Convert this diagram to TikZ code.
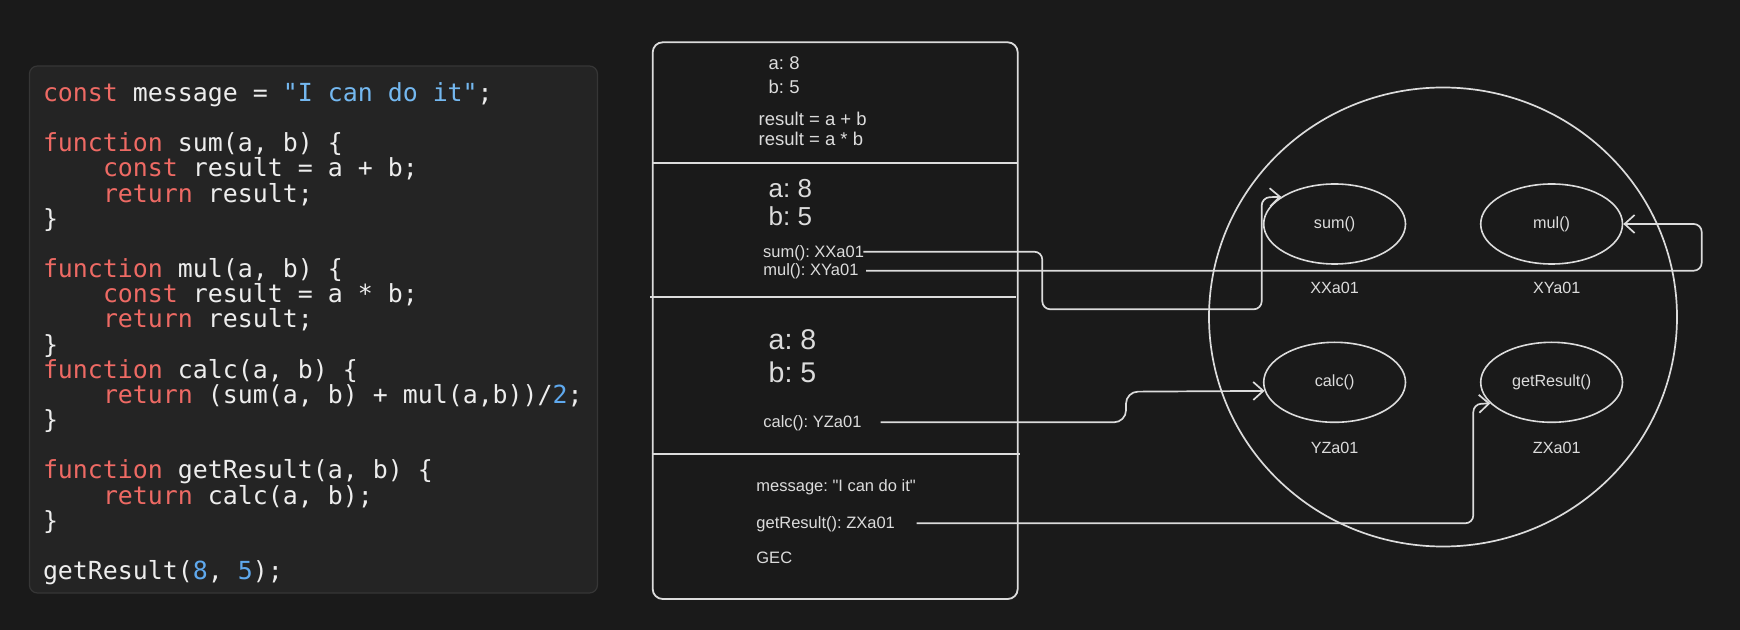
\documentclass[tikz,border=0pt]{standalone}
\usepackage{fontspec}
\newfontfamily\labelfont{Liberation Sans}
\newfontfamily\codefont{DejaVu Sans Mono}
\usetikzlibrary{arrows.meta,shapes.geometric}
\definecolor{bg}{HTML}{1A1A1A}
\definecolor{codebg}{HTML}{242424}
\definecolor{codeborder}{HTML}{363636}
\definecolor{kw}{HTML}{EE6A64}
\definecolor{str}{HTML}{74B8F0}
\definecolor{num}{HTML}{5FA9EE}
\definecolor{fg}{HTML}{EDEDED}
\definecolor{ink}{HTML}{DCDCDC}
\newcommand{\kw}[1]{\textcolor{kw}{#1}}
\newcommand{\st}[1]{\textcolor{str}{#1}}
\newcommand{\nm}[1]{\textcolor{num}{#1}}
\frenchspacing
\begin{document}
\begin{tikzpicture}[x=0.5pt,y=-0.5pt,
  codeline/.style={anchor=base west, inner sep=0pt, text=fg,
    font=\codefont\fontsize{12.45pt}{14pt}\selectfont},
  txt/.style={anchor=base west, inner sep=0pt, text=ink},
  small/.style={txt, font=\labelfont\fontsize{8.25pt}{10pt}\selectfont},
  mid/.style={txt, font=\labelfont\fontsize{9.25pt}{11pt}\selectfont},
  bigA/.style={txt, font=\labelfont\fontsize{13pt}{15pt}\selectfont},
  bigB/.style={txt, font=\labelfont\fontsize{14.25pt}{16pt}\selectfont},
  fn/.style={ellipse, draw=ink, line width=0.8pt, minimum width=70.9pt,
    minimum height=40pt, inner sep=0pt, text=ink,
    font=\labelfont\fontsize{8.1pt}{10pt}\selectfont},
  addr/.style={inner sep=0pt, text=ink, font=\labelfont\fontsize{8.1pt}{10pt}\selectfont},
  frame/.style={draw=ink, line width=0.9pt},
  conn/.style={draw=ink, line width=0.85pt, rounded corners=4pt,
    -{Straight Barb[length=5pt,width=9pt]}}
]
% background
\fill[bg] (0,0) rectangle (1740,630);

% code panel
\node[draw=codeborder, fill=codebg, line width=0.6pt, rounded corners=4pt,
  minimum width=284pt, minimum height=263.5pt, inner sep=0pt] (codebox) at (313.45,329.5) {};
\node[codeline] (c0) at (42.6,102.0) {\kw{const} message = \st{"I can do it"};};
\node[codeline] (c2) at (42.6,151.9) {\kw{function} sum(a, b) \{};
\node[codeline] (c3) at (102.6,177.0) {\kw{const} result = a + b;};
\node[codeline] (c4) at (102.6,202.2) {\kw{return} result;};
\node[codeline] (c5) at (42.6,227.3) {\}};
\node[codeline] (c7) at (42.6,277.6) {\kw{function} mul(a, b) \{};
\node[codeline] (c8) at (102.6,302.8) {\kw{const} result = a * b;};
\node[codeline] (c9) at (102.6,327.9) {\kw{return} result;};
\node[codeline] (c10) at (42.6,353.1) {\}};
\node[codeline] (c11) at (42.6,378.2) {\kw{function} calc(a, b) \{};
\node[codeline] (c12) at (102.6,403.4) {\kw{return} (sum(a, b) + mul(a,b))/\nm{2};};
\node[codeline] (c13) at (42.6,428.6) {\}};
\node[codeline] (c15) at (42.6,479.0) {\kw{function} getResult(a, b) \{};
\node[codeline] (c16) at (102.6,504.2) {\kw{return} calc(a, b);};
\node[codeline] (c17) at (42.6,529.4) {\}};
\node[codeline] (c19) at (42.6,579.8) {getResult(\nm{8}, \nm{5});};

% call stack
\node[frame, rounded corners=5pt, minimum width=182.5pt, minimum height=278.35pt,
  inner sep=0pt] (stack) at (835.2,320.65) {};
\draw[frame] (652.7,162.7) -- (1017.7,162.7);
\draw[frame] (650,296.7) -- (1015.7,296.7);
\draw[frame] (651.7,454) -- (1020,454);

\node[mid] (f1a) at (768.3,70) {a: 8};
\node[mid] (f1b) at (768.3,93.3) {b: 5};
\node[mid] (f1r1) at (758.3,125.7) {result = a + b};
\node[mid] (f1r2) at (758.3,145.7) {result = a * b};

\node[bigA] (f2a) at (768.3,197.3) {a: 8};
\node[bigA] (f2b) at (768.3,226) {b: 5};
\node[small] (sumref) at (762.7,257.7) {sum(): XXa01};
\node[small] (mulref) at (763,275.7) {mul(): XYa01};

\node[bigB] (f3a) at (768.3,350) {a: 8};
\node[bigB] (f3b) at (768.3,382.7) {b: 5};
\node[small] (calcref) at (763,427.3) {calc(): YZa01};

\node[small] (msg) at (756,491.7) {message: "I can do it"};
\node[small] (grref) at (756,528.3) {getResult(): ZXa01};
\node[small] (gec) at (756,563.3) {GEC};

% heap
\node[ellipse, draw=ink, line width=0.85pt, minimum width=234pt,
  minimum height=229.5pt, inner sep=0pt] (heap) at (1443,317) {};
\node[fn] (sumE) at (1334.6,224) {sum()};
\node[fn] (mulE) at (1551.6,224) {mul()};
\node[fn] (calcE) at (1334.6,382.3) {calc()};
\node[fn] (grE) at (1551.6,382.3) {getResult()};
\node[addr] (sumA) at (1334.6,287.7) {XXa01};
\node[addr] (mulA) at (1556.7,287.7) {XYa01};
\node[addr] (calcA) at (1334.6,448.3) {YZa01};
\node[addr] (grA) at (1556.7,448.3) {ZXa01};

% connectors
\coordinate (sumS) at (863.3,251.7);
\coordinate (mulS) at (866,270.7);
\coordinate (calcS) at (880.7,422.3);
\coordinate (grS) at (916.7,523.3);

\draw[conn] (sumS) -- (1042.3,251.7) -- (1042.3,309.3) -- (1261.7,309.3)
  -- (1261.7,197.5) -- (sumE.153.7);
\draw[conn] (mulS) -- (1701.7,270.7) -- (1701.7,224) -- (mulE.east);
\draw[conn, rounded corners=6pt] (calcS) -- (1126,422.3) -- (1126,391.7) -- (calcE.187.6);
\draw[conn] (grS) -- (1473.3,523.3) -- (1473.3,404) -- (grE.199.8);
\end{tikzpicture}
\end{document}
